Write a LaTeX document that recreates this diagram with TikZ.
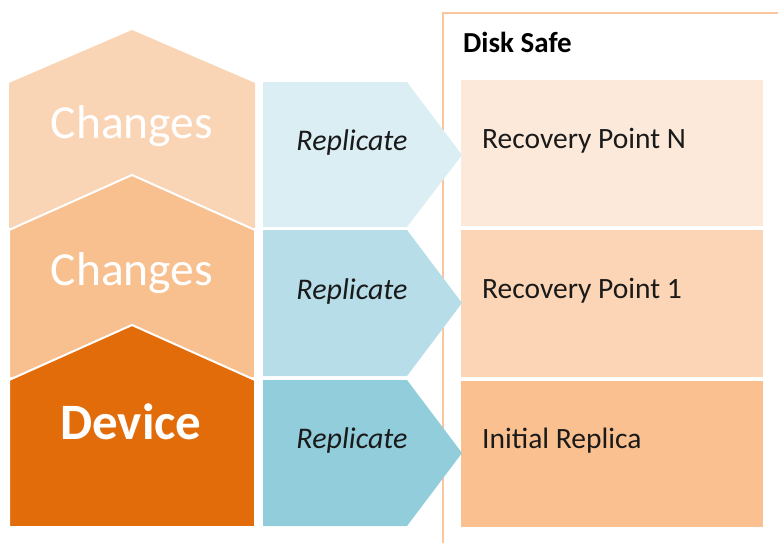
\documentclass[tikz,border=0pt]{standalone}
\usepackage{fontspec}
\setmainfont{Carlito}
\definecolor{penA}{HTML}{F9D5B6}
\definecolor{penB}{HTML}{F8BF8F}
\definecolor{penC}{HTML}{E36C0A}
\definecolor{arrA}{HTML}{DBEEF3}
\definecolor{arrB}{HTML}{B7DDE8}
\definecolor{arrC}{HTML}{92CDDC}
\definecolor{boxA}{HTML}{FDE9D9}
\definecolor{boxB}{HTML}{FBD5B5}
\definecolor{boxC}{HTML}{FAC090}
\definecolor{frameC}{HTML}{F9C6A0}
\definecolor{txt}{HTML}{1A1A1A}
\tikzset{
  pent/.style={draw=white, line width=2pt, line join=miter},
  bigtxt/.style={inner sep=0pt, anchor=base, text=white, font=\fontsize{47.5}{54}\selectfont},
  devtxt/.style={inner sep=0pt, anchor=base, text=white, font=\fontsize{51}{58}\selectfont\bfseries},
  reptxt/.style={inner sep=0pt, anchor=base, text=txt, font=\fontsize{30}{36}\selectfont\itshape},
  rptxt/.style={inner sep=0pt, anchor=base west, text=txt, font=\fontsize{29.5}{35}\selectfont},
  hdtxt/.style={inner sep=0pt, anchor=base west, text=black, font=\fontsize{29}{35}\selectfont\bfseries},
}
\begin{document}
\begin{tikzpicture}[x=1pt,y=-1pt]
\useasboundingbox (0,0) rectangle (778,542);
% left pentagons
\fill[penA] (9,83) -- (132,30) -- (255,83) -- (255,228) -- (9,228) -- cycle;
\filldraw[penB, pent] (9,230) -- (132,175) -- (255,230) -- (255,378) -- (9,378) -- cycle;
\filldraw[penC, pent] (9,380) -- (132,325) -- (255,380) -- (255,527) -- (9,527) -- cycle;
\node[bigtxt] (ch1) at (132,138) {Changes};
\node[bigtxt] (ch2) at (132,285) {Changes};
\node[devtxt] (dev) at (131,439) {Device};
% disk safe frame
\draw[frameC, line width=1.5pt] (443,545) -- (443,13) -- (781,13);
\node[hdtxt] (ds) at (463,52) {Disk Safe};
% right boxes
\fill[boxA] (461,80) rectangle (763,226);
\fill[boxB] (461,230) rectangle (763,377);
\fill[boxC] (461,381) rectangle (763,527);
\node[rptxt] (rpn) at (482,148) {Recovery Point N};
\node[rptxt] (rp1) at (482,298) {Recovery Point 1};
\node[rptxt] (ir) at (482,448) {Initial Replica};
% replicate arrows
\fill[arrA] (263,82) -- (407,82) -- (462,155) -- (407,227) -- (263,227) -- cycle;
\fill[arrB] (263,230) -- (407,230) -- (462,303) -- (407,376) -- (263,376) -- cycle;
\fill[arrC] (263,380) -- (407,380) -- (462,453) -- (407,526) -- (263,526) -- cycle;
\node[reptxt] (r1) at (352,150) {Replicate};
\node[reptxt] (r2) at (352,299) {Replicate};
\node[reptxt] (r3) at (352,448) {Replicate};
\end{tikzpicture}
\end{document}
